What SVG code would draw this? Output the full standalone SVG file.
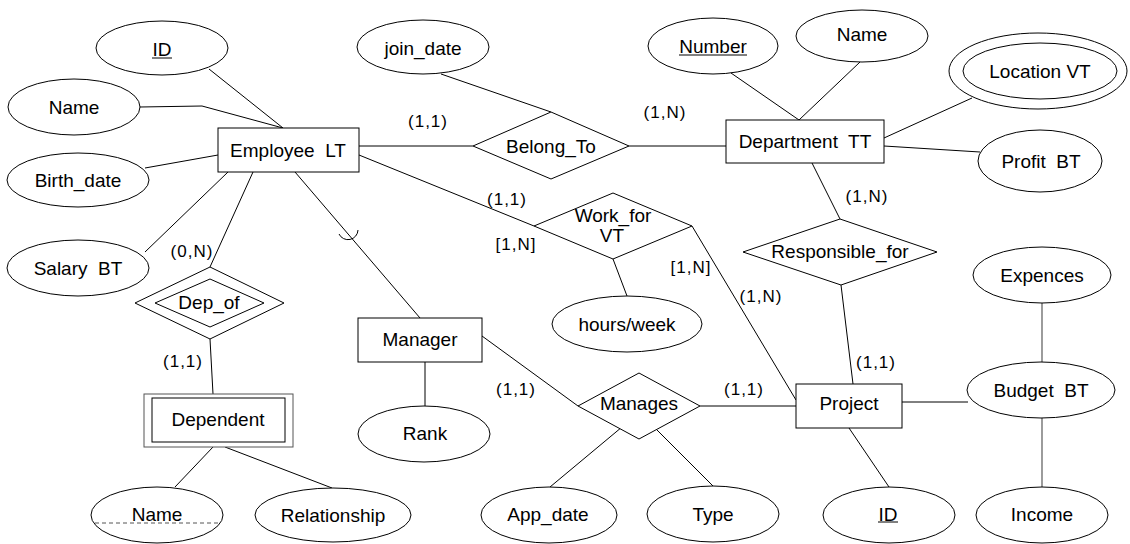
<svg xmlns="http://www.w3.org/2000/svg" width="1130" height="544" viewBox="0 0 1130 544" xml:space="preserve">
<style>
  .s{fill:#fff;stroke:#000;stroke-width:1}
  .g{fill:#fff;stroke:#555;stroke-width:1}
  .t{font-family:"Liberation Sans",Arial,sans-serif;font-size:19px;fill:#000;text-anchor:middle;white-space:pre}
  .l{font-family:"Liberation Sans",Arial,sans-serif;font-size:17px;letter-spacing:1px;fill:#000;text-anchor:middle}
  .c{fill:none;stroke:#000;stroke-width:1}
  .cg{fill:none;stroke:#666;stroke-width:1.3}
  .u{stroke:#000;stroke-width:1}
</style>
<rect width="1130" height="544" fill="#fff"/>
<g id="connectors">
  <line class="c" x1="209" y1="69" x2="283" y2="128"/>
  <polyline class="c" points="140,107 202,106 283,128"/>
  <line class="c" x1="145" y1="168" x2="218" y2="155"/>
  <line class="c" x1="145" y1="252" x2="228" y2="172"/>
  <line class="c" x1="253" y1="172" x2="210" y2="267"/>
  <line class="c" x1="210" y1="339" x2="213" y2="394"/>
  <line class="c" x1="213" y1="447" x2="175" y2="487"/>
  <line class="c" x1="225" y1="447" x2="332" y2="488"/>
  <line class="c" x1="295" y1="172" x2="420" y2="318"/>
  <path class="c" d="M339,234 A10,10 0 0 0 358,230"/>
  <line class="c" x1="425" y1="362" x2="425" y2="406"/>
  <line class="c" x1="482" y1="336" x2="578" y2="406"/>
  <line class="c" x1="622" y1="427" x2="550" y2="487"/>
  <line class="c" x1="657" y1="430" x2="713" y2="486"/>
  <line class="c" x1="700" y1="406" x2="796" y2="406"/>
  <line class="c" x1="359" y1="146" x2="473" y2="146"/>
  <line class="c" x1="629" y1="146" x2="726" y2="146"/>
  <line class="c" x1="441" y1="74" x2="551" y2="112"/>
  <line class="c" x1="359" y1="155" x2="534" y2="226"/>
  <line class="c" x1="613" y1="259" x2="627" y2="296"/>
  <line class="c" x1="692" y1="226" x2="796" y2="400"/>
  <line class="c" x1="731" y1="73" x2="799" y2="120"/>
  <line class="c" x1="860" y1="62" x2="799" y2="120"/>
  <line class="c" x1="972" y1="98" x2="884" y2="138"/>
  <line class="c" x1="884" y1="146" x2="980" y2="152"/>
  <line class="c" x1="812" y1="163" x2="840" y2="219"/>
  <line class="c" x1="841" y1="285" x2="853" y2="384"/>
  <line class="c" x1="849" y1="428" x2="889" y2="487"/>
  <line class="c" x1="902" y1="402" x2="968" y2="402"/>
  <line class="cg" x1="1042" y1="303" x2="1042" y2="362"/>
  <line class="cg" x1="1042" y1="418" x2="1042" y2="487"/>
</g>
<g id="Employee"><rect class="s" x="218" y="128" width="141" height="44"/><text class="t" x="288" y="157">Employee  LT</text></g>
<g id="ID_emp"><ellipse class="s" cx="162" cy="48" rx="66" ry="27"/><text class="t" x="162" y="56">ID</text><line class="u" x1="152" y1="58" x2="172" y2="58"/></g>
<g id="Name_emp"><ellipse class="s" cx="74" cy="107" rx="66" ry="28"/><text class="t" x="74" y="114">Name</text></g>
<g id="Birth_date"><ellipse class="s" cx="78" cy="180" rx="71" ry="27"/><text class="t" x="78" y="187">Birth_date</text></g>
<g id="Salary"><ellipse class="s" cx="78" cy="268" rx="71" ry="28"/><text class="t" x="78" y="275">Salary  BT</text></g>
<g id="Dep_of"><polygon class="s" points="135,303 210,267 284,303 210,339"/><polygon class="s" points="155,303 210,279 264,303 210,327"/><text class="t" x="209" y="309">Dep_of</text></g>
<g id="Dependent"><rect class="g" x="144" y="394" width="149" height="53"/><rect class="s" x="152" y="398" width="133" height="44"/><text class="t" x="218" y="426">Dependent</text></g>
<g id="Name_dep"><ellipse class="s" cx="157" cy="515" rx="66" ry="28"/><text class="t" x="157" y="521">Name</text><line x1="95" y1="523" x2="218" y2="523" stroke="#555" stroke-width="1" stroke-dasharray="4,3"/></g>
<g id="Relationship"><ellipse class="s" cx="333" cy="515" rx="78" ry="27"/><text class="t" x="333" y="522">Relationship</text></g>
<g id="Manager"><rect class="s" x="358" y="318" width="124" height="44"/><text class="t" x="420" y="346">Manager</text></g>
<g id="Rank"><ellipse class="s" cx="424" cy="434" rx="66" ry="28"/><text class="t" x="425" y="440">Rank</text></g>
<g id="join_date"><ellipse class="s" cx="423" cy="47" rx="66" ry="27"/><text class="t" x="423" y="55">join_date</text></g>
<g id="Belong_To"><polygon class="s" points="473,146 551,112 629,146 551,179"/><text class="t" x="551" y="153">Belong_To</text></g>
<g id="Work_for"><polygon class="s" points="534,226 613,193 692,226 613,259"/><text class="t" x="613" y="222">Work_for</text><text class="t" x="612" y="242">VT</text></g>
<g id="hours_week"><ellipse class="s" cx="627" cy="324" rx="75" ry="28"/><text class="t" x="627" y="331">hours/week</text></g>
<g id="Manages"><polygon class="s" points="578,406 639,373 700,406 639,439"/><text class="t" x="639" y="410">Manages</text></g>
<g id="App_date"><ellipse class="s" cx="549" cy="515" rx="68" ry="28"/><text class="t" x="548" y="521">App_date</text></g>
<g id="Type"><ellipse class="s" cx="713" cy="514" rx="66" ry="28"/><text class="t" x="713" y="521">Type</text></g>
<g id="Department"><rect class="s" x="726" y="120" width="158" height="43"/><text class="t" x="805" y="148">Department  TT</text></g>
<g id="Number"><ellipse class="s" cx="713" cy="46" rx="65" ry="28"/><text class="t" x="713" y="53">Number</text><line class="u" x1="679" y1="55" x2="747" y2="55"/></g>
<g id="Name_dept"><ellipse class="s" cx="862" cy="36" rx="66" ry="26"/><text class="t" x="862" y="41">Name</text></g>
<g id="Location"><ellipse class="s" cx="1038" cy="71" rx="89" ry="38"/><ellipse class="s" cx="1040" cy="71" rx="77" ry="28"/><text class="t" x="1040" y="78">Location VT</text></g>
<g id="Profit"><ellipse class="s" cx="1040" cy="161" rx="62" ry="31"/><text class="t" x="1041" y="168">Profit  BT</text></g>
<g id="Responsible_for"><polygon class="s" points="743,252 840,219 937,252 841,285"/><text class="t" x="840" y="258">Responsible_for</text></g>
<g id="Project"><rect class="s" x="796" y="384" width="106" height="44"/><text class="t" x="849" y="410">Project</text></g>
<g id="ID_proj"><ellipse class="s" cx="889" cy="515" rx="66" ry="28"/><text class="t" x="888" y="521">ID</text><line class="u" x1="878" y1="522" x2="898" y2="522"/></g>
<g id="Expences"><ellipse class="s" cx="1042" cy="275" rx="69" ry="28"/><text class="t" x="1042" y="282">Expences</text></g>
<g id="Budget"><ellipse class="s" cx="1041" cy="390" rx="74" ry="28"/><text class="t" x="1041" y="397">Budget  BT</text></g>
<g id="Income"><ellipse class="s" cx="1042" cy="515" rx="66" ry="28"/><text class="t" x="1042" y="521">Income</text></g>
<g id="labels">
  <text class="l" x="428" y="127">(1,1)</text>
  <text class="l" x="665" y="118">(1,N)</text>
  <text class="l" x="867" y="202">(1,N)</text>
  <text class="l" x="192" y="257">(0,N)</text>
  <text class="l" x="507" y="205">(1,1)</text>
  <text class="l" x="516" y="250">[1,N]</text>
  <text class="l" x="691" y="273">[1,N]</text>
  <text class="l" x="761" y="302">(1,N)</text>
  <text class="l" x="876" y="368">(1,1)</text>
  <text class="l" x="183" y="367">(1,1)</text>
  <text class="l" x="516" y="395">(1,1)</text>
  <text class="l" x="744" y="395">(1,1)</text>
</g>
</svg>
